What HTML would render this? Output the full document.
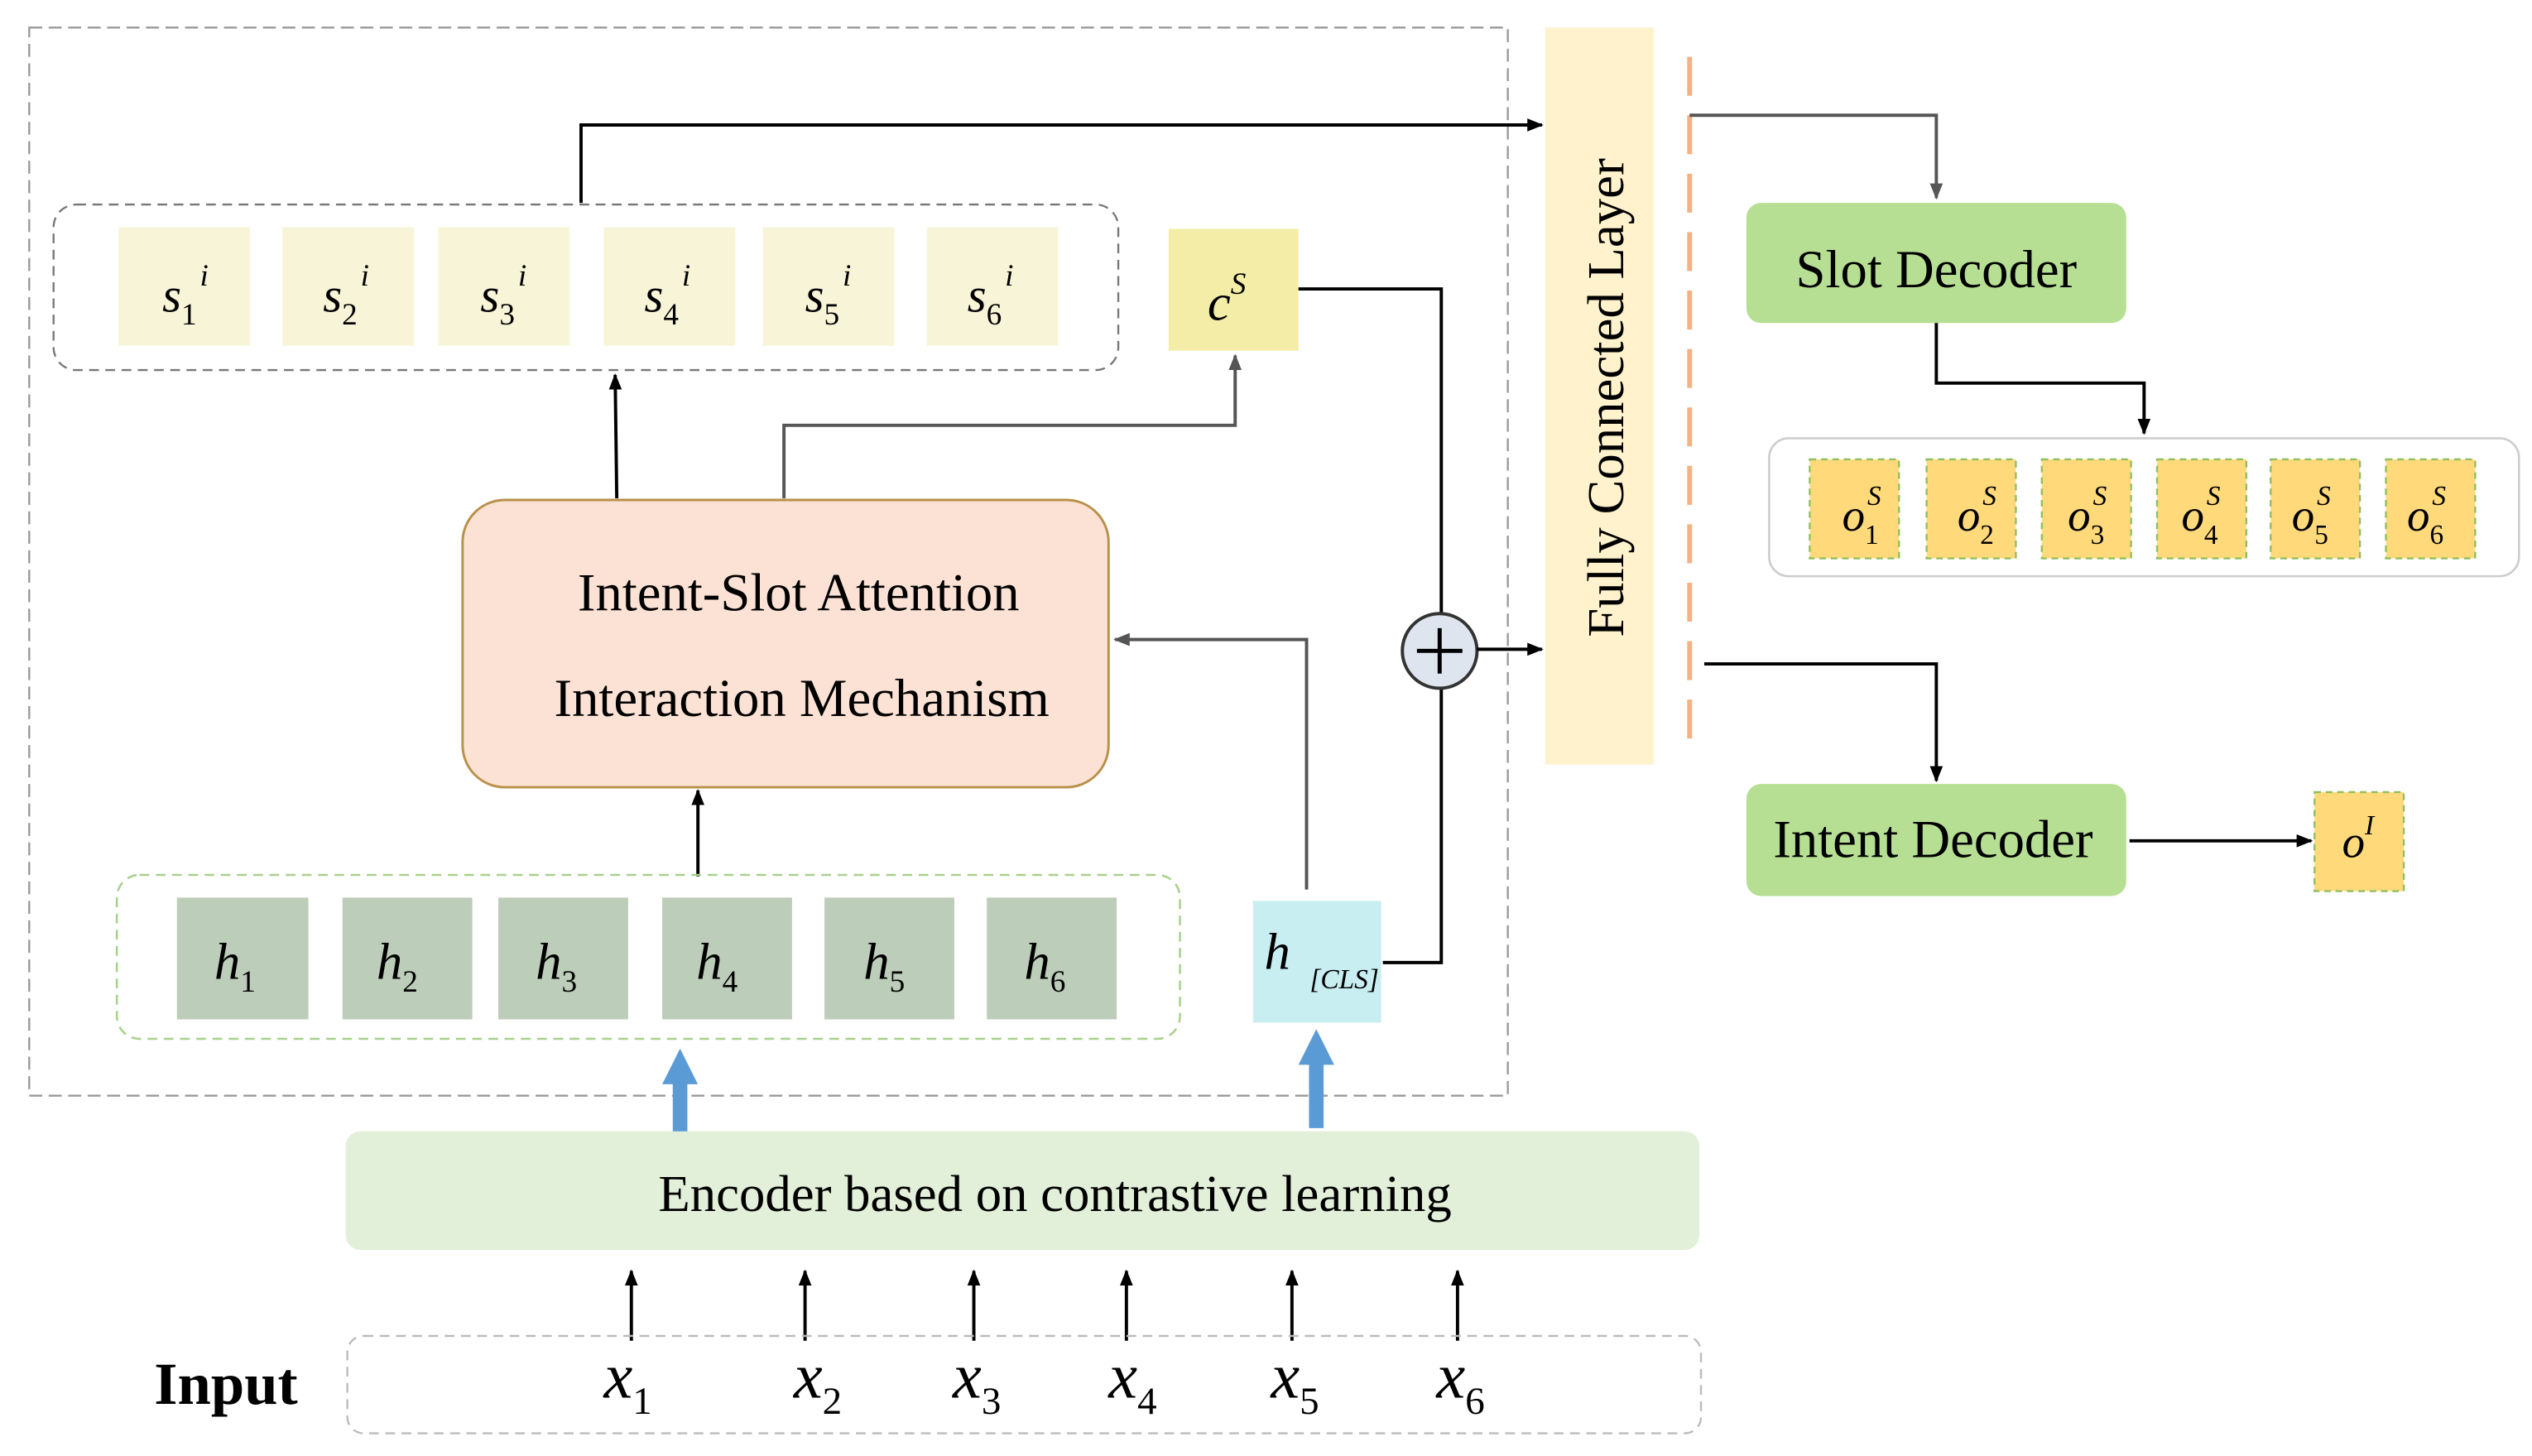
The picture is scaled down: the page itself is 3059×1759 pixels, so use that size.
<!DOCTYPE html>
<html><head><meta charset="utf-8"><style>
html,body{margin:0;padding:0;background:#fff;}
svg{display:block;}
text{font-family:"Liberation Serif",serif;fill:#000;}
.it{font-style:italic;}
.up{font-style:normal;}
</style></head><body>
<svg width="3059" height="1759" viewBox="0 0 1560 897" preserveAspectRatio="none" xmlns="http://www.w3.org/2000/svg">
<defs>
<marker id="a" markerWidth="10" markerHeight="10" refX="9" refY="5" orient="auto" markerUnits="userSpaceOnUse"><path d="M0,1 L10,5 L0,9 z" fill="#000"/></marker>
<marker id="g" markerWidth="10" markerHeight="10" refX="9" refY="5" orient="auto" markerUnits="userSpaceOnUse"><path d="M0,1 L10,5 L0,9 z" fill="#555"/></marker>
<marker id="b" markerWidth="22" markerHeight="22" refX="4" refY="11" orient="auto" markerUnits="userSpaceOnUse"><path d="M0,0 L22,11 L0,22 z" fill="#5b9bd5"/></marker>
</defs>
<rect x="18" y="17" width="911" height="658" fill="none" stroke="#999" stroke-width="1.2" stroke-dasharray="8,4"/>
<rect x="952" y="17" width="67" height="454" fill="#fff2cc"/>
<text transform="translate(1000,245) rotate(-90)" text-anchor="middle" font-size="32">Fully Connected Layer</text>
<line x1="1041" y1="35" x2="1041" y2="462" stroke="#f4b183" stroke-width="3" stroke-dasharray="24,12"/>
<polyline points="358,125 358,77 950,77" fill="none" stroke="#000" stroke-width="2" marker-end="url(#a)"/>
<rect x="33" y="126" width="656" height="102" rx="14" fill="none" stroke="#777" stroke-width="1.2" stroke-dasharray="6,4"/>
<g fill="#f8f4d8">
<rect x="73" y="140" width="81" height="73"/><rect x="174" y="140" width="81" height="73"/><rect x="270" y="140" width="81" height="73"/><rect x="372" y="140" width="81" height="73"/><rect x="470" y="140" width="81" height="73"/><rect x="571" y="140" width="81" height="73"/>
</g>
<g font-size="30">
<text x="100" y="192" class="it">s<tspan class="up" font-size="19" dy="8">1</tspan><tspan font-size="19" dx="2" dy="-24">i</tspan></text>
<text x="199" y="192" class="it">s<tspan class="up" font-size="19" dy="8">2</tspan><tspan font-size="19" dx="2" dy="-24">i</tspan></text>
<text x="296" y="192" class="it">s<tspan class="up" font-size="19" dy="8">3</tspan><tspan font-size="19" dx="2" dy="-24">i</tspan></text>
<text x="397" y="192" class="it">s<tspan class="up" font-size="19" dy="8">4</tspan><tspan font-size="19" dx="2" dy="-24">i</tspan></text>
<text x="496" y="192" class="it">s<tspan class="up" font-size="19" dy="8">5</tspan><tspan font-size="19" dx="2" dy="-24">i</tspan></text>
<text x="596" y="192" class="it">s<tspan class="up" font-size="19" dy="8">6</tspan><tspan font-size="19" dx="2" dy="-24">i</tspan></text>
</g>
<rect x="720" y="141" width="80" height="75" fill="#f3eda8"/>
<text x="744" y="197" font-size="32" class="it">c<tspan font-size="19" dy="-16">S</tspan></text>
<polyline points="800,178 888,178 888,378" fill="none" stroke="#000" stroke-width="2"/>
<polyline points="852,593 888,593 888,424" fill="none" stroke="#000" stroke-width="2"/>
<circle cx="887" cy="401" r="23" fill="#dfe5ef" stroke="#333" stroke-width="2"/>
<line x1="873" y1="401" x2="901" y2="401" stroke="#000" stroke-width="2.5"/>
<line x1="887" y1="387" x2="887" y2="415" stroke="#000" stroke-width="2.5"/>
<line x1="910" y1="400" x2="950" y2="400" stroke="#000" stroke-width="2" marker-end="url(#a)"/>
<rect x="772" y="555" width="79" height="75" fill="#c9eef2"/>
<text x="779" y="597" font-size="32" class="it">h</text>
<text x="807" y="609" font-size="17" class="it">[CLS]</text>
<polyline points="805,548 805,394 687,394" fill="none" stroke="#555" stroke-width="2" marker-end="url(#g)"/>
<rect x="285" y="308" width="398" height="177" rx="26" fill="#fbe2d5" stroke="#b8914a" stroke-width="1.5"/>
<text x="492" y="376" text-anchor="middle" font-size="33">Intent-Slot Attention</text>
<text x="494" y="441" text-anchor="middle" font-size="33">Interaction Mechanism</text>
<line x1="380" y1="307" x2="379" y2="231" stroke="#000" stroke-width="2" marker-end="url(#a)"/>
<polyline points="483,307 483,262 761,262 761,219" fill="none" stroke="#555" stroke-width="2" marker-end="url(#g)"/>
<line x1="430" y1="540" x2="430" y2="487" stroke="#000" stroke-width="2" marker-end="url(#a)"/>
<rect x="72" y="539" width="655" height="101" rx="14" fill="none" stroke="#a9d18e" stroke-width="1.3" stroke-dasharray="6,4"/>
<g fill="#bccdb9">
<rect x="109" y="553" width="81" height="75"/><rect x="211" y="553" width="80" height="75"/><rect x="307" y="553" width="80" height="75"/><rect x="408" y="553" width="80" height="75"/><rect x="508" y="553" width="80" height="75"/><rect x="608" y="553" width="80" height="75"/>
</g>
<g font-size="32">
<text x="132" y="603" class="it">h<tspan class="up" font-size="19" dy="8">1</tspan></text>
<text x="232" y="603" class="it">h<tspan class="up" font-size="19" dy="8">2</tspan></text>
<text x="330" y="603" class="it">h<tspan class="up" font-size="19" dy="8">3</tspan></text>
<text x="429" y="603" class="it">h<tspan class="up" font-size="19" dy="8">4</tspan></text>
<text x="532" y="603" class="it">h<tspan class="up" font-size="19" dy="8">5</tspan></text>
<text x="631" y="603" class="it">h<tspan class="up" font-size="19" dy="8">6</tspan></text>
</g>
<line x1="419" y1="699" x2="419" y2="664" stroke="#5b9bd5" stroke-width="9" marker-end="url(#b)"/>
<line x1="811" y1="695" x2="811" y2="652" stroke="#5b9bd5" stroke-width="9" marker-end="url(#b)"/>
<rect x="213" y="697" width="834" height="73" rx="9" fill="#e2efd9"/>
<text x="650" y="746" text-anchor="middle" font-size="32">Encoder based on contrastive learning</text>
<g stroke="#000" stroke-width="2" marker-end="url(#a)">
<line x1="389" y1="826" x2="389" y2="783"/><line x1="496" y1="826" x2="496" y2="783"/><line x1="600" y1="826" x2="600" y2="783"/><line x1="694" y1="826" x2="694" y2="783"/><line x1="796" y1="826" x2="796" y2="783"/><line x1="898" y1="826" x2="898" y2="783"/>
</g>
<rect x="214" y="823" width="834" height="60" rx="10" fill="none" stroke="#bbb" stroke-width="1.2" stroke-dasharray="6,4"/>
<g font-size="40">
<text x="372" y="861" class="it">x<tspan font-size="24" font-style="normal" dy="10">1</tspan></text>
<text x="489" y="861" class="it">x<tspan font-size="24" font-style="normal" dy="10">2</tspan></text>
<text x="587" y="861" class="it">x<tspan font-size="24" font-style="normal" dy="10">3</tspan></text>
<text x="683" y="861" class="it">x<tspan font-size="24" font-style="normal" dy="10">4</tspan></text>
<text x="783" y="861" class="it">x<tspan font-size="24" font-style="normal" dy="10">5</tspan></text>
<text x="885" y="861" class="it">x<tspan font-size="24" font-style="normal" dy="10">6</tspan></text>
</g>
<text x="95" y="865" font-size="37" font-weight="bold">Input</text>
<polyline points="1041,71 1193,71 1193,122" fill="none" stroke="#555" stroke-width="2" marker-end="url(#g)"/>
<rect x="1076" y="125" width="234" height="74" rx="9" fill="#b6df93"/>
<text x="1193" y="177" text-anchor="middle" font-size="33">Slot Decoder</text>
<polyline points="1193,199 1193,236 1321,236 1321,267" fill="none" stroke="#000" stroke-width="2" marker-end="url(#a)"/>
<rect x="1090" y="270" width="462" height="85" rx="12" fill="none" stroke="#ccc" stroke-width="1.3"/>
<g fill="#ffd97a" stroke="#8fbf5f" stroke-width="1.2" stroke-dasharray="4,3">
<rect x="1115" y="283" width="55" height="61"/><rect x="1187" y="283" width="55" height="61"/><rect x="1258" y="283" width="55" height="61"/><rect x="1329" y="283" width="55" height="61"/><rect x="1399" y="283" width="55" height="61"/><rect x="1470" y="283" width="55" height="61"/>
</g>
<g font-size="28">
<text x="1135" y="327" class="it">o<tspan font-size="17" font-style="normal" dy="8">1</tspan><tspan font-size="17" dx="-7" dy="-24">S</tspan></text>
<text x="1206" y="327" class="it">o<tspan font-size="17" font-style="normal" dy="8">2</tspan><tspan font-size="17" dx="-7" dy="-24">S</tspan></text>
<text x="1274" y="327" class="it">o<tspan font-size="17" font-style="normal" dy="8">3</tspan><tspan font-size="17" dx="-7" dy="-24">S</tspan></text>
<text x="1344" y="327" class="it">o<tspan font-size="17" font-style="normal" dy="8">4</tspan><tspan font-size="17" dx="-7" dy="-24">S</tspan></text>
<text x="1412" y="327" class="it">o<tspan font-size="17" font-style="normal" dy="8">5</tspan><tspan font-size="17" dx="-7" dy="-24">S</tspan></text>
<text x="1483" y="327" class="it">o<tspan font-size="17" font-style="normal" dy="8">6</tspan><tspan font-size="17" dx="-7" dy="-24">S</tspan></text>
</g>
<polyline points="1050,409 1193,409 1193,481" fill="none" stroke="#000" stroke-width="2" marker-end="url(#a)"/>
<rect x="1076" y="483" width="234" height="69" rx="9" fill="#b6df93"/>
<text x="1191" y="528" text-anchor="middle" font-size="33">Intent Decoder</text>
<line x1="1312" y1="518" x2="1424" y2="518" stroke="#000" stroke-width="2" marker-end="url(#a)"/>
<rect x="1426" y="488" width="55" height="61" fill="#ffd97a" stroke="#8fbf5f" stroke-width="1.2" stroke-dasharray="4,3"/>
<text x="1443" y="528" font-size="28" class="it">o<tspan font-size="17" dy="-14">I</tspan></text>
</svg>
</body></html>
